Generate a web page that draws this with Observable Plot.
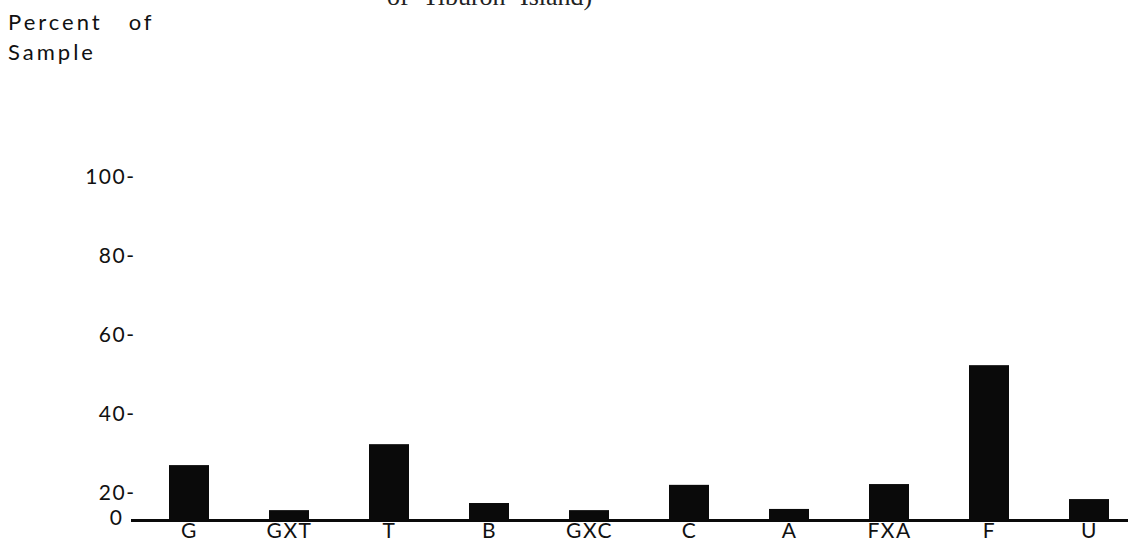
<!DOCTYPE html>
<html>
<head>
<meta charset="utf-8">
<script src="https://cdn.jsdelivr.net/npm/d3@7"></script>
<script src="https://cdn.jsdelivr.net/npm/@observablehq/plot@0.6"></script>
<style>
  html, body { margin: 0; padding: 0; background: white; overflow: hidden; }
  #wrap { position: relative; width: 1135px; height: 549px; }
  #chart { position: absolute; left: 0; top: 0; }
  .ylab { position: absolute; left: 8px; font-family: Lato, sans-serif; font-size: 22px; letter-spacing: 3px; color: #111; line-height: 1; white-space: pre; }
  #title { position: absolute; left: 387px; top: -16px; font-family: "Liberation Serif", serif; font-size: 26px; word-spacing: 8px; color: #222; line-height: 1; white-space: pre; }
  #chart svg text { letter-spacing: 1.5px; }
</style>
</head>
<body>
<div id="wrap">
  <div id="chart"></div>
  <div id="title">of Tiburon Island)</div>
  <div class="ylab" style="top:11px">Percent   of</div>
  <div class="ylab" style="top:41px">Sample</div>
</div>
<script>
const categories = ["G", "GXT", "T", "B", "GXC", "C", "A", "FXA", "F", "U"];
const percents = [13.9, 2.5, 19.2, 4.3, 2.5, 8.9, 2.8, 9.1, 39.2, 5.3];
const yTicks = [20, 40, 60, 80, 100];
const zeroTick = [0];

const data = categories.map((c, i) => ({cat: c, pct: percents[i]}));

const chart = Plot.plot({
  width: 1135,
  height: 549,
  marginLeft: 131,
  marginRight: 7,
  marginTop: 125,
  marginBottom: 29,
  style: {fontFamily: "Lato, sans-serif", background: "transparent", color: "#111"},
  x: {domain: categories, paddingInner: 0.6, paddingOuter: 0.285, align: 0.667, axis: null},
  y: {domain: [0, 100], axis: null},
  marks: [
    Plot.barY(data, {x: "cat", y: "pct", fill: "#0a0a0a"}),
    Plot.ruleY([0], {stroke: "#0a0a0a", strokeWidth: 3}),
    Plot.axisY(yTicks, {tickSize: 0, tickPadding: -4, tickFormat: d => d + "-", dy: 52, fontSize: 21, label: null}),
    Plot.axisY(zeroTick, {tickSize: 0, tickPadding: 8, tickFormat: d => String(d), dy: -2, fontSize: 21, label: null}),
    Plot.axisX({tickSize: 0, tickPadding: 3, fontSize: 21, label: null})
  ]
});
document.getElementById("chart").appendChild(chart);
</script>
</body>
</html>
